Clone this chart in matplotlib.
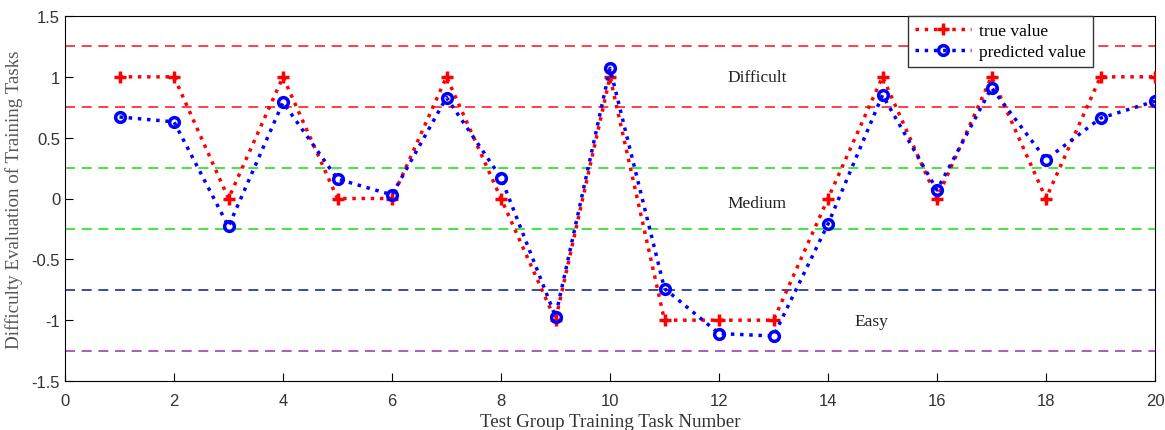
import matplotlib.pyplot as plt

# task numbers and values
tasks = list(range(1, 21))
true_vals = [1, 1, 0, 1, 0, 0, 1, 0, -1, 1, -1, -1, -1, 0, 1, 0, 1, 0, 1, 1]
pred_vals = [0.67, 0.63, -0.23, 0.79, 0.16, 0.03, 0.83, 0.17, -0.97, 1.07,
             -0.74, -1.11, -1.13, -0.21, 0.85, 0.07, 0.91, 0.32, 0.66, 0.80]

# difficulty band borders
band_levels = [1.25, 0.75, 0.25, -0.25, -0.75, -1.25]
band_colors = ['#ff2020', '#ff2020', '#22e022', '#22e022', '#1a2f8a', '#a040b0']
band_names = ['Difficult', 'Medium', 'Easy']
band_name_x = [12.7, 12.7, 14.8]
band_name_y = [1.0, -0.04, -1.01]

serif = ['Liberation Serif', 'DejaVu Serif']

fig = plt.figure(figsize=(11.65, 4.31), dpi=100)
ax = fig.add_axes([65 / 1165, 1 - 382 / 431, 1090 / 1165, 365 / 431])

for lvl, c in zip(band_levels, band_colors):
    ax.axhline(lvl, color=c, linestyle=(0, (6, 4)), linewidth=1.2, zorder=1)

ax.plot(tasks, true_vals, color='red', linestyle=':', linewidth=2.5,
        marker='+', markersize=9, markeredgewidth=2.5, label='true value', zorder=3)
ax.plot(tasks, pred_vals, color='blue', linestyle=':', linewidth=2.5,
        marker='o', markersize=7, markerfacecolor='none', markeredgewidth=2.5,
        label='predicted value', zorder=4)

for name, x, y in zip(band_names, band_name_x, band_name_y):
    ax.text(x, y, name, ha='center', va='center', fontsize=12.5, family=serif, color='#222222')

ax.set_xlim(0, 20)
ax.set_ylim(-1.5, 1.5)
ax.set_xticks(range(0, 21, 2))
ax.set_yticks([-1.5, -1, -0.5, 0, 0.5, 1, 1.5])
ax.set_yticklabels(['-1.5', '-1', '-0.5', '0', '0.5', '1', '1.5'])
ax.tick_params(labelsize=12, direction='in', length=6, labelcolor='#333333',
               top=False, right=False)
ax.tick_params(axis='x', pad=9)
for lab in ax.get_xticklabels() + ax.get_yticklabels():
    lab.set_family(['Liberation Sans', 'DejaVu Sans'])

ax.set_xlabel('Test Group Training Task Number', fontsize=13.7, family=serif,
              color='#333333', labelpad=3)
ax.set_ylabel('Difficulty Evaluation of Training Tasks', fontsize=13.7, family=serif,
              color='#555555', labelpad=6)

leg = ax.legend(loc='upper right', bbox_to_anchor=(1028 / 1090, 1.0),
                prop={'family': serif, 'size': 12.5}, fancybox=False,
                edgecolor='#333333', framealpha=1, handlelength=3.2,
                borderpad=0.4, labelspacing=0.25, handletextpad=0.5,
                borderaxespad=0)
leg.get_frame().set_linewidth(1.0)

plt.savefig('out.png', dpi=100)
